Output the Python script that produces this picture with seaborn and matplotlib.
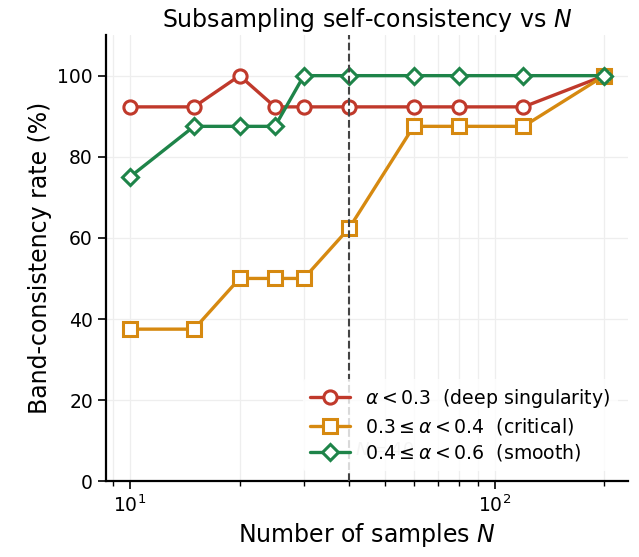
import matplotlib
matplotlib.use("Agg")
import matplotlib.pyplot as plt
import seaborn as sns
import pandas as pd

N = [10, 15, 20, 25, 30, 40, 60, 80, 120, 200]
deep = [92.3, 92.3, 100, 92.3, 92.3, 92.3, 92.3, 92.3, 92.3, 100]
critical = [37.5, 37.5, 50, 50, 50, 62.5, 87.5, 87.5, 87.5, 100]
smooth = [75, 87.5, 87.5, 87.5, 100, 100, 100, 100, 100, 100]
labels = [r"$\alpha < 0.3$  (deep singularity)",
          r"$0.3 \leq \alpha < 0.4$  (critical)",
          r"$0.4 \leq \alpha < 0.6$  (smooth)"]
colors = ["#c0392b", "#d68910", "#1e8449"]
markers = ["o", "s", "D"]

sns.set_theme(style="ticks")
plt.rcParams["font.family"] = ["DejaVu Sans"]
plt.rcParams.update({"text.color": "black", "axes.labelcolor": "black",
                     "xtick.color": "black", "ytick.color": "black",
                     "axes.edgecolor": "black"})

df = pd.DataFrame({
    "N": N * 3,
    "rate": deep + critical + smooth,
    "group": [labels[0]] * len(N) + [labels[1]] * len(N) + [labels[2]] * len(N),
})

fig, ax = plt.subplots(figsize=(6.39, 5.57), dpi=100)
for lab, col, mk in zip(labels, colors, markers):
    sub = df[df["group"] == lab]
    sns.lineplot(data=sub, x="N", y="rate", ax=ax, color=col, marker=mk,
                 markersize=9.5 if mk != "D" else 8.5, markerfacecolor="white",
                 markeredgecolor=col, markeredgewidth=2.2, linewidth=2.4,
                 label=lab, zorder=3)

ax.set_xscale("log")
ax.set_ylim(0, 110)
ax.axvline(40, color="#444444", linestyle="--", linewidth=1.5, zorder=4)
ax.text(41.5, 6.5, r"$N=40$", color="#cccccc", fontsize=13, zorder=1)
ax.grid(True, which="both", color="#eeeeee", linewidth=0.9)
ax.set_axisbelow(True)
sns.despine(ax=ax)
ax.tick_params(axis="both", which="major", labelsize=13.5, length=6, width=1.2)
ax.tick_params(axis="x", which="minor", length=3.5, width=1)
ax.spines["left"].set_linewidth(1.6)
ax.spines["bottom"].set_linewidth(1.6)
ax.set_xlabel(r"Number of samples $N$", fontsize=17)
ax.set_ylabel("Band-consistency rate (%)", fontsize=17)
ax.set_title(r"Subsampling self-consistency vs $N$", fontsize=17)
leg = ax.legend(loc="lower right", fontsize=13.6, frameon=True, framealpha=0.8,
                edgecolor="none", facecolor="white", handlelength=2.1,
                borderaxespad=0.55, labelspacing=0.3)
fig.subplots_adjust(left=0.166, right=0.983, top=0.937, bottom=0.136)
fig.savefig("out.png", dpi=100)
